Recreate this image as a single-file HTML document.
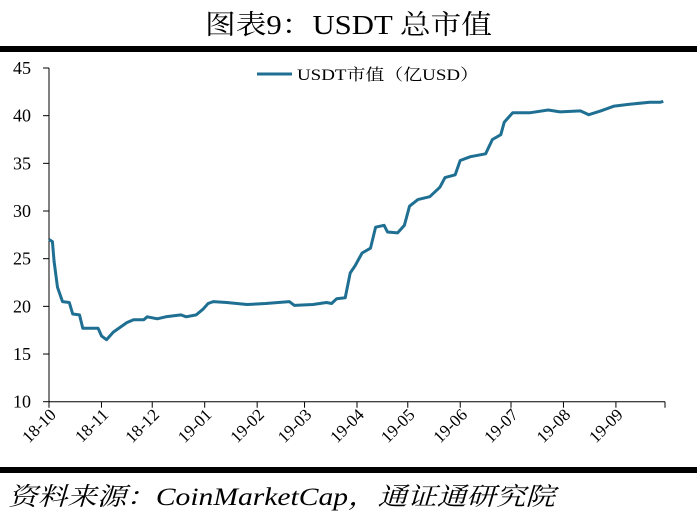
<!DOCTYPE html>
<html><head><meta charset="utf-8"><style>
body{margin:0;background:#fff;width:697px;height:521px;overflow:hidden;font-family:"Liberation Serif","Noto Serif CJK SC",serif}
</style></head><body>
<svg width="697" height="521" xmlns="http://www.w3.org/2000/svg">
<text x="205" y="34" textLength="287" lengthAdjust="spacingAndGlyphs" font-size="27" font-family="Liberation Serif, Noto Serif CJK SC, serif">图表9：USDT 总市值</text>
<rect x="0" y="46" width="697" height="6" fill="#000"/>
<rect x="0" y="467" width="697" height="6" fill="#000"/>
<text x="8" y="505" textLength="547" lengthAdjust="spacingAndGlyphs" font-size="25" font-style="italic" font-family="Liberation Serif, Noto Serif CJK SC, serif">资料来源：CoinMarketCap，通证通研究院</text>
<g id="axes"></g>
<g id="marks"></g>
<line x1="257" y1="74" x2="292" y2="74" stroke="#1f6f93" stroke-width="3"/>
<text x="297" y="80" textLength="182" lengthAdjust="spacingAndGlyphs" font-size="16" font-family="Liberation Serif, Noto Serif CJK SC, serif">USDT市值（亿USD）</text>
</svg>
<script>
const days=[0,2,3,5,8,12,14,18,20,29,31,34,38,46,50,56,58,64,69,78,81,87,91,94,97,105,117,128,142,145,156,164,167,170,175,178,181,185,190,193,198,200,206,210,213,218,225,231,234,240,243,249,258,262,267,269,274,284,295,302,314,319,326,334,343,355,361,363];
const values=[27,26.8,24.7,22,20.5,20.4,19.2,19.1,17.7,17.7,16.9,16.5,17.3,18.3,18.6,18.6,18.9,18.7,18.9,19.1,18.9,19.1,19.7,20.3,20.5,20.4,20.2,20.3,20.5,20.1,20.2,20.4,20.3,20.8,20.9,23.5,24.3,25.6,26.1,28.3,28.5,27.8,27.7,28.5,30.5,31.2,31.5,32.5,33.5,33.8,35.3,35.7,36,37.5,38,39.3,40.3,40.3,40.6,40.4,40.5,40.1,40.5,41,41.2,41.4,41.4,41.5];
const yTicks=[10,15,20,25,30,35,40,45];
const xLabels=["18-10","18-11","18-12","19-01","19-02","19-03","19-04","19-05","19-06","19-07","19-08","19-09"];
const xTickDays=[0,31,61,92,123,151,182,212,243,273,304,335];
const X0=49,X1=665,DMAX=364,Y0=401.7,YT=68;
const xs=d=>X0+(X1-X0)*d/DMAX;
const ys=v=>Y0-(v-10)*(Y0-YT)/35;
const NS="http://www.w3.org/2000/svg";
const ax=document.getElementById('axes'),mk=document.getElementById('marks');
function mkEl(t,a){const e=document.createElementNS(NS,t);for(const k in a)e.setAttribute(k,a[k]);return e;}
let e=mkEl('line',{x1:X0,y1:YT,x2:X0,y2:Y0,stroke:'#000','stroke-width':1});


ax.appendChild(e);
e=mkEl('line',{x1:X0,y1:Y0,x2:X1,y2:Y0,stroke:'#000','stroke-width':1});


ax.appendChild(e);
yTicks.forEach(v=>{
 const y=ys(v);
 let t=mkEl('line',{x1:X0-6,y1:y,x2:X0,y2:y,stroke:'#000'});
 
 
 ax.appendChild(t);
 let l=mkEl('text',{x:31,y:y+6,'text-anchor':'end','font-size':18});
 l.textContent=v;
 
 
 ax.appendChild(l);
});
xTickDays.concat([DMAX]).forEach(d=>{
 const x=xs(d);
 let t=mkEl('line',{x1:x,y1:Y0,x2:x,y2:Y0+6,stroke:'#000'});
 
 
 ax.appendChild(t);
});
xLabels.forEach((s,i)=>{
 const x=xs(xTickDays[i]);
 let l=mkEl('text',{x:x+8,y:Y0+14,'text-anchor':'end','font-size':17,transform:`rotate(-45 ${x+8} ${Y0+14})`});
 l.textContent=s;
 
 
 ax.appendChild(l);
});
const pts=days.map((d,i)=>xs(d).toFixed(1)+','+ys(values[i]).toFixed(1)).join(' ');
const p=mkEl('polyline',{points:pts,fill:'none',stroke:'#1f6f93','stroke-width':3,'stroke-linejoin':'round'});


mk.appendChild(p);
</script>
</body></html>
